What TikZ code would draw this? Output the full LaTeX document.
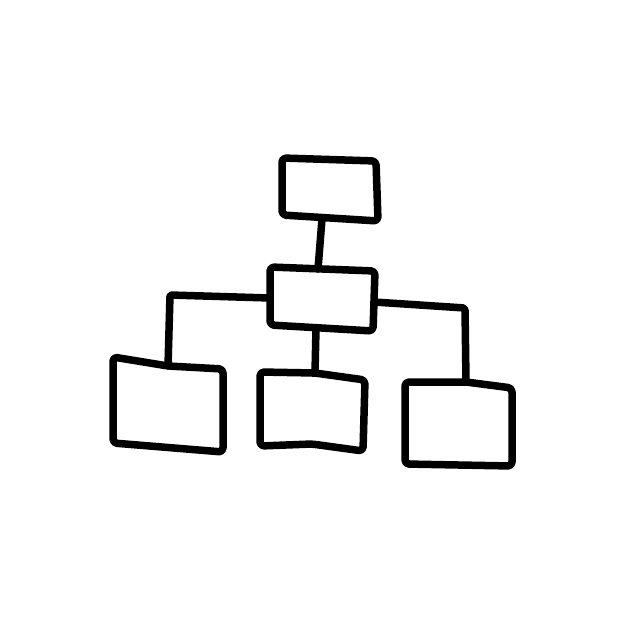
\documentclass[tikz,border=0pt]{standalone}
\begin{document}
\begin{tikzpicture}[x=1pt,y=-1pt,
  ink/.style={draw=black,line width=7.5pt,line cap=round,line join=round,rounded corners=4pt}]
\fill[white] (0,0) rectangle (626,626);
\useasboundingbox (0,0) rectangle (626,626);
% boxes
\draw[ink] (282,158) -- (376,161) -- (378,221) -- (282,215) -- cycle;
\draw[ink] (270,267) -- (375,271) -- (373,331) -- (270,325) -- cycle;
\draw[ink] (113,357) -- (168,366) -- (223,369) -- (223,452) -- (113,443) -- cycle;
\draw[ink] (260,372) -- (315,373) -- (365,380) -- (363,451) -- (312,444) -- (260,446) -- cycle;
\draw[ink] (405,382) -- (466,382) -- (512,388) -- (512,466) -- (405,464) -- cycle;
% connection points
\coordinate (t) at (322,219);
\coordinate (mt) at (318,269);
\coordinate (ml) at (270,298);
\coordinate (mr) at (374,302);
\coordinate (mb) at (316,328);
\coordinate (bl) at (168,366);
\coordinate (bm) at (315,373);
\coordinate (br) at (466,382);
% connectors
\draw[ink,rounded corners=2pt] (t) -- (mt);
\draw[ink,rounded corners=2pt] (ml) -- (170,295) -- (bl);
\draw[ink,rounded corners=2pt] (mb) -- (bm);
\draw[ink,rounded corners=2pt] (mr) -- (465,308) -- (br);
\end{tikzpicture}
\end{document}
